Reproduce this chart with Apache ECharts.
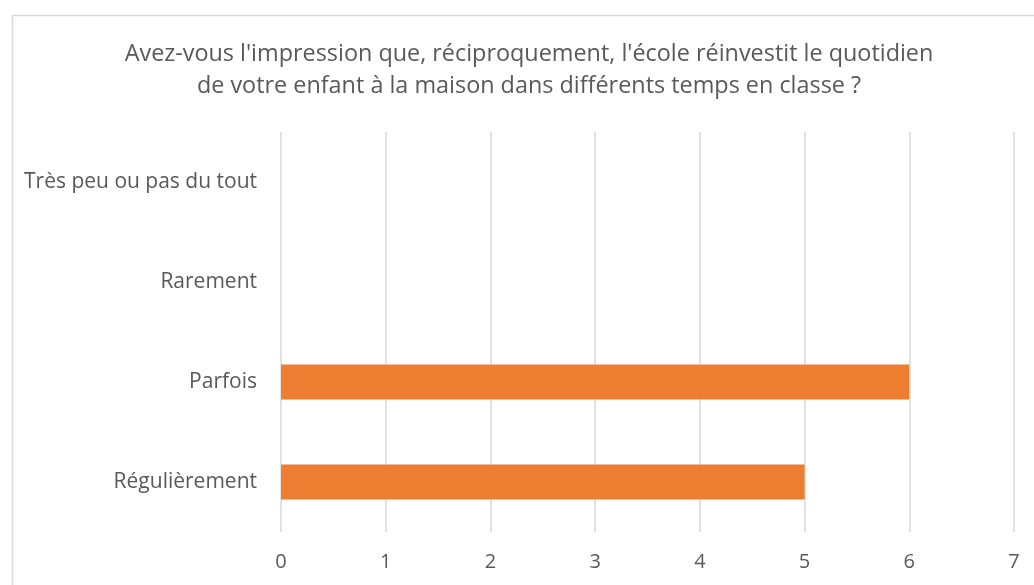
<!DOCTYPE html>
<html>
<head>
<meta charset="utf-8">
<script src="https://cdn.jsdelivr.net/npm/echarts@6/dist/echarts.min.js"></script>
<style>
html,body{margin:0;padding:0;background:#fff;}
#chart{width:1034px;height:585px;}
</style>
</head>
<body>
<div id="chart"></div>
<script>
const titleLines = ["Avez-vous l'impression que, réciproquement, l'école réinvestit le quotidien", "de votre enfant à la maison dans différents temps en classe ?"];
const categories = ["Très peu ou pas du tout", "Rarement", "Parfois", "Régulièrement"];
const values = [0, 0, 6, 5];
const xMin = 0, xMax = 7, xStep = 1;

const chart = echarts.init(document.getElementById('chart'));
const font = "'Open Sans', sans-serif";
chart.setOption({
  animation: false,
  backgroundColor: '#fff',
  graphic: [{
    type: 'rect', left: 10, top: 13, silent: true,
    shape: {width: 1100, height: 700},
    style: {fill: 'none', stroke: '#d9d9d9', lineWidth: 1.5}
  }],
  title: {
    text: titleLines.join('\n'),
    left: 524, top: 33, textAlign: 'center',
    textStyle: {fontFamily: font, fontSize: 23.4, fontWeight: 'normal', color: '#595959', lineHeight: 32}
  },
  grid: {left: 281, right: 20, top: 132, bottom: 53, containLabel: false},
  xAxis: {
    type: 'value', min: xMin, max: xMax, interval: xStep,
    axisLine: {show: false}, axisTick: {show: false},
    axisLabel: {fontFamily: font, fontSize: 20, color: '#595959', margin: 20},
    splitLine: {show: true, lineStyle: {color: '#d9d9d9', width: 1.5}}
  },
  yAxis: {
    type: 'category', data: categories, inverse: true,
    axisLine: {show: false}, axisTick: {show: false},
    axisLabel: {fontFamily: font, fontSize: 21, color: '#595959', margin: 24}
  },
  series: [{
    type: 'bar', data: values, barWidth: 35,
    itemStyle: {color: '#ED7D31'}
  }]
});
</script>
</body>
</html>
